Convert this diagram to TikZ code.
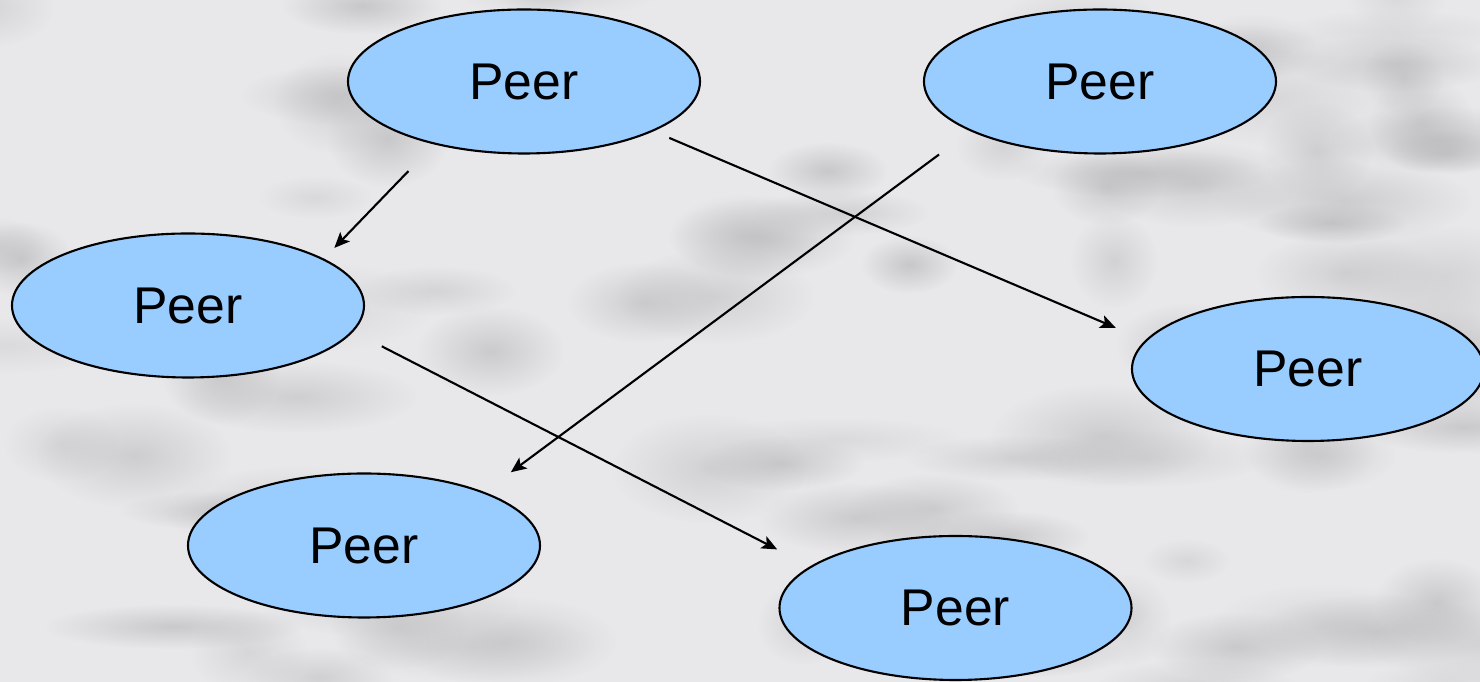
\documentclass[tikz,border=0pt]{standalone}
\usepackage{fontspec}
\setmainfont{Liberation Sans}
\usepackage{xcolor}
\usetikzlibrary{arrows.meta, shapes.geometric, fadings}

\definecolor{peerblue}{HTML}{99CCFF}
\definecolor{marble}{HTML}{E8E8EA}
\definecolor{marbledark}{HTML}{B4B4B7}

% soft spot for the marble texture
\tikzfading[name=softspot, inner color=transparent!0, outer color=transparent!100]

\begin{document}
\begin{tikzpicture}[
    >={Stealth[length=4.4pt,width=3.8pt,inset=1pt]},
    peer/.style={ellipse, draw, line width=0.6pt, fill=peerblue,
        minimum width=3.52cm, minimum height=1.44cm, inner sep=0pt,
        font=\fontsize{14.7}{17}\selectfont},
    link/.style={->, line width=0.6pt}
]

% Marble backdrop
\fill[marble] (0,0) rectangle (14.8,-6.82);
\useasboundingbox (0,0) rectangle (14.8,-6.82);
\begin{scope}
\clip (0,0) rectangle (14.8,-6.82);
\pgfmathsetseed{4711}
\foreach \i in {1,...,90}{
    \pgfmathsetmacro\bx{15.2*rnd-0.2}
    \pgfmathsetmacro\by{-7.2*rnd+0.2}
    \pgfmathsetmacro\brx{0.4+0.9*rnd}
    \pgfmathsetmacro\bry{0.2+0.35*rnd}
    \pgfmathsetmacro\bop{0.25+0.4*rnd}
    \fill[marbledark, opacity=\bop, path fading=softspot]
        (\bx,\by) ellipse ({\brx} and {\bry});
}
\end{scope}

% Peers
\node[peer] (p1) at (5.24,-0.815) {Peer};
\node[peer] (p2) at (11.00,-0.815) {Peer};
\node[peer] (p3) at (1.88,-3.055) {Peer};
\node[peer] (p4) at (13.08,-3.69) {Peer};
\node[peer] (p5) at (3.64,-5.455) {Peer};
\node[peer] (p6) at (9.555,-6.08) {Peer};

% Links between peers
\draw[link, shorten <=0.37cm, shorten >=0.15cm] (p1.215) -- (p3.19);
\draw[link, shorten <=0.17cm, shorten >=0.32cm] (p1.-21) -- (p4.170);
\draw[link, shorten <=0.39cm, shorten >=0.33cm] (p2.201) -- (p5.24);
\draw[link, shorten <=0.32cm, shorten >=0.37cm] (p3.-9) -- (p6.164);

\end{tikzpicture}
\end{document}
